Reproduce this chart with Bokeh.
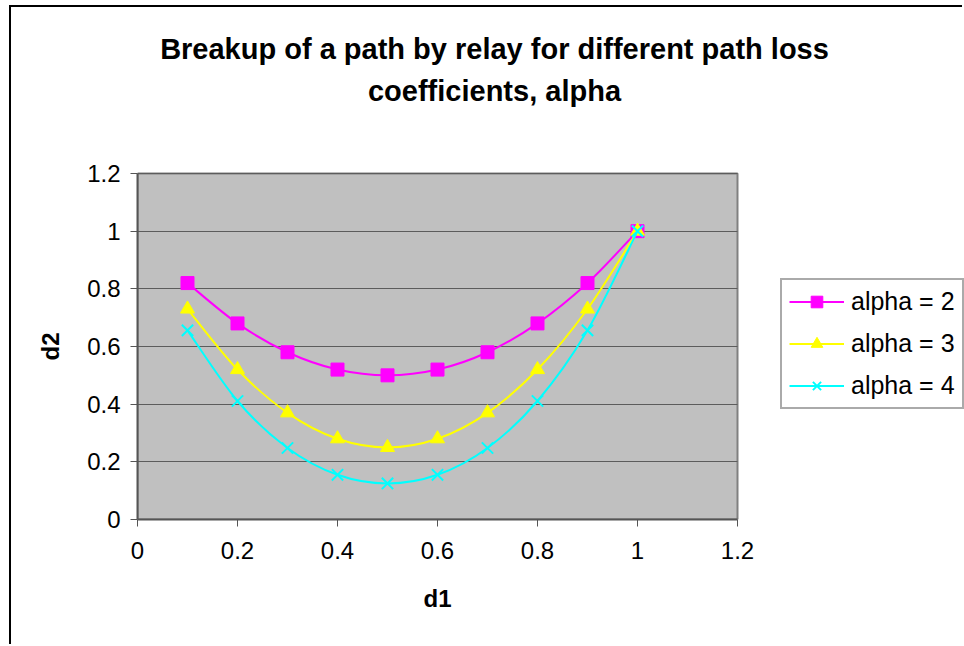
from bokeh.plotting import figure
from bokeh.models import (ColumnDataSource, Legend, LegendItem, Label, Range1d, Title,
                          FixedTicker, NumeralTickFormatter, BoxAnnotation)
from bokeh.embed import file_html
from bokeh.resources import INLINE

# ---- data ----
d1 = [0.1, 0.2, 0.3, 0.4, 0.5, 0.6, 0.7, 0.8, 0.9, 1.0]
alpha2 = [0.82, 0.68, 0.58, 0.52, 0.50, 0.52, 0.58, 0.68, 0.82, 1.0]
alpha3 = [0.73, 0.52, 0.37, 0.28, 0.25, 0.28, 0.37, 0.52, 0.73, 1.0]
alpha4 = [0.656, 0.411, 0.248, 0.155, 0.125, 0.155, 0.248, 0.411, 0.656, 1.0]
series_names = ["alpha = 2", "alpha = 3", "alpha = 4"]
tick_values = [0, 0.2, 0.4, 0.6, 0.8, 1.0, 1.2]
axis_min, axis_max = 0.0, 1.2
title_lines = ["Breakup of a path by relay for different path loss", "coefficients, alpha"]
x_label, y_label = "d1", "d2"

FONT = "Liberation Sans"

# frame covers the whole chart area; the plot area is the 0..1.2 box inside it
PX_PER_UNIT_X = 500.0
PX_PER_UNIT_Y = 346.0 / 1.2
W, H = 953, 639
LEFT, BOTTOM = 126, 127
x_end = (W - LEFT) / PX_PER_UNIT_X
y_end = (H - BOTTOM) / PX_PER_UNIT_Y

p = figure(width=W, height=H, output_backend="svg", toolbar_location=None,
           x_range=Range1d(0, x_end), y_range=Range1d(0, y_end),
           min_border_left=LEFT, min_border_right=0,
           min_border_top=0, min_border_bottom=BOTTOM)
p.styles = {"margin-left": "9px", "margin-top": "5px",
            "border-left": "2px solid black", "border-top": "2px solid black"}

p.background_fill_color = "white"
p.border_fill_color = "white"
p.outline_line_color = None

plot_area = BoxAnnotation(left=axis_min, right=axis_max, bottom=axis_min, top=axis_max,
                          fill_color="#C0C0C0", fill_alpha=1.0,
                          line_color="#808080", line_width=2, line_alpha=1.0,
                          level="image", propagate_hover=False)
p.add_layout(plot_area)

for ax in (p.xaxis[0], p.yaxis[0]):
    ax.bounds = (axis_min, axis_max)
    ax.ticker = FixedTicker(ticks=tick_values)
    ax.formatter = NumeralTickFormatter(format="0.[0]")
    ax.axis_line_color = "#555555"
    ax.axis_line_width = 2
    ax.major_tick_line_color = "#555555"
    ax.major_tick_line_width = 1
    ax.major_tick_out = 7
    ax.major_tick_in = 0
    ax.minor_tick_line_color = None
    ax.major_label_text_font = FONT
    ax.major_label_text_font_size = "24px"
    ax.major_label_text_color = "black"

p.xaxis.major_label_standoff = 15
p.yaxis.major_label_standoff = 10

# axis titles centred on the 0..1.2 plot area (not on the whole frame)
p.add_layout(Title(text=x_label, align="left", offset=286, standoff=42,
                   text_font=FONT, text_font_size="24px", text_font_style="bold",
                   text_color="black"), "below")
p.add_layout(Title(text=y_label, align="left", offset=159, standoff=42,
                   text_font=FONT, text_font_size="24px", text_font_style="bold",
                   text_color="black"), "left")

p.xgrid.grid_line_color = None
grid = p.ygrid[0]
if "cross_bounds" in grid.properties():
    grid.ticker = FixedTicker(ticks=tick_values)
    grid.bounds = (axis_min, axis_max)
    grid.cross_bounds = (axis_min, axis_max)
    grid.grid_line_color = "#5c5c5c"
    grid.grid_line_width = 1
else:
    grid.grid_line_color = None
    p.segment(x0=[axis_min] * len(tick_values), x1=[axis_max] * len(tick_values),
              y0=tick_values, y1=tick_values, line_color="#5c5c5c", line_width=1)


def smooth_segments(xs, ys):
    """Bezier control points (Catmull-Rom) through the data points."""
    n = len(xs)
    x0, y0, x1, y1, cx0, cy0, cx1, cy1 = [], [], [], [], [], [], [], []
    for i in range(n - 1):
        im = max(i - 1, 0)
        ip2 = min(i + 2, n - 1)
        x0.append(xs[i]); y0.append(ys[i])
        x1.append(xs[i + 1]); y1.append(ys[i + 1])
        cx0.append(xs[i] + (xs[i + 1] - xs[im]) / 6.0)
        cy0.append(ys[i] + (ys[i + 1] - ys[im]) / 6.0)
        cx1.append(xs[i + 1] - (xs[ip2] - xs[i]) / 6.0)
        cy1.append(ys[i + 1] - (ys[ip2] - ys[i]) / 6.0)
    return dict(x0=x0, y0=y0, x1=x1, y1=y1, cx0=cx0, cy0=cy0, cx1=cx1, cy1=cy1)


colors = ["#FF00FF", "#FFFF00", "#00FFFF"]
markers = ["square", "triangle", "x"]
sizes = [13, 14, 16]
items = []
for name, ys, col, mk, sz in zip(series_names, [alpha2, alpha3, alpha4], colors, markers, sizes):
    src = ColumnDataSource(smooth_segments(d1, ys))
    p.bezier(x0="x0", y0="y0", x1="x1", y1="y1", cx0="cx0", cy0="cy0",
             cx1="cx1", cy1="cy1", source=src, line_color=col, line_width=2)
    if mk == "x":
        sr = p.scatter(x=d1, y=ys, marker=mk, size=sz, line_color=col, line_width=2)
    else:
        sr = p.scatter(x=d1, y=ys, marker=mk, size=sz, fill_color=col, line_color=col)
    # legend line sample (single point, draws nothing in the plot)
    ll = p.line(x=[d1[0]], y=[ys[0]], line_color=col, line_width=2)
    items.append(LegendItem(label=name, renderers=[ll, sr]))

legend = Legend(items=items, location=(643, 110))
legend.label_text_font = FONT
legend.label_text_font_size = "25px"
legend.label_text_color = "black"
legend.glyph_width = 55
legend.glyph_height = 29
legend.label_height = 29
legend.spacing = 13
legend.padding = 7
legend.margin = 0
legend.label_standoff = 7
legend.border_line_color = "#555555"
legend.border_line_width = 2
legend.background_fill_color = "white"
p.add_layout(legend, "center")

for txt, yy in zip(title_lines, [471, 429]):
    p.add_layout(Label(x=357, y=yy, x_units="screen", y_units="screen", text=txt,
                       text_align="center", text_baseline="middle",
                       text_font=FONT, text_font_size="29px",
                       text_font_style="bold", text_color="black"))

open("out.html", "w").write(file_html(p, INLINE))
